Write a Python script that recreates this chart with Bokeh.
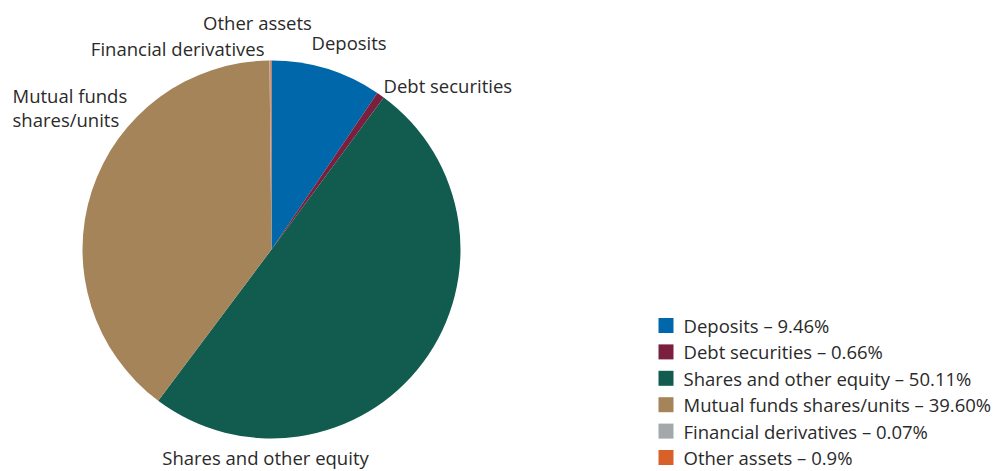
import numpy as np
from bokeh.plotting import figure
from bokeh.models import ColumnDataSource, Range1d
from bokeh.core.properties import value
from bokeh.embed import file_html
from bokeh.resources import INLINE

# ---- data ----
categories = ["Deposits", "Debt securities", "Shares and other equity",
              "Mutual funds shares/units", "Financial derivatives", "Other assets"]
slice_values = [9.46, 0.66, 50.11, 39.60, 0.07, 0.10]
legend_pct = ["9.46%", "0.66%", "50.11%", "39.60%", "0.07%", "0.9%"]
slice_labels = ["Deposits", "Debt securities", "Shares and other equity",
                "Mutual funds", "Financial derivatives", "Other assets"]
extra_label = "shares/units"
colors = ["#0067aa", "#7a1f3d", "#115b4f", "#a5845a", "#a3a9aa", "#d8612a"]

# ---- layout (pixel positions in the 998x471 picture) ----
W, H = 998, 471
def X(px): return px
def Y(py): return H - py

cx, cy, R = 271, 249, 189
label_pos = [(311, 42, "left"), (383, 85, "left"), (265, 457, "center"),
             (12, 95, "left"), (264, 48, "right"), (257, 22, "center")]
extra_pos = (12, 119)
leg_x_sq, leg_x_txt, leg_y0, leg_dy = 665.5, 683, 325.0, 26.4
FONT = "Open Sans"
FS = "18.5px"
TXT = "#2a2a2a"

p = figure(width=W, height=H, output_backend="svg", toolbar_location=None,
           x_range=Range1d(0, W), y_range=Range1d(0, H),
           min_border=0, outline_line_color=None)
p.axis.visible = False
p.grid.visible = False
p.background_fill_color = "white"
p.border_fill_color = "white"

vals = np.array(slice_values, dtype=float)
frac = vals / vals.sum()
cum = np.concatenate([[0], np.cumsum(frac)])
start = np.pi / 2 - cum[:-1] * 2 * np.pi
end = np.pi / 2 - cum[1:] * 2 * np.pi

src = ColumnDataSource(dict(start=start, end=end, color=colors))
p.wedge(x=X(cx), y=Y(cy), radius=R, start_angle="start", end_angle="end",
        direction="clock", fill_color="color", line_color=None, source=src)

# slice labels
for lab, (lx, ly, al) in zip(slice_labels, label_pos):
    p.text(x=[X(lx)], y=[Y(ly)], text=[lab], text_align=al, text_baseline="middle",
           text_font=value(FONT), text_font_size=FS, text_color=TXT)
p.text(x=[X(extra_pos[0])], y=[Y(extra_pos[1])], text=[extra_label], text_align="left",
       text_baseline="middle", text_font=value(FONT), text_font_size=FS, text_color=TXT)

# legend
n = len(categories)
ly = [Y(leg_y0 + i * leg_dy) for i in range(n)]
p.rect(x=[X(leg_x_sq)] * n, y=ly, width=15, height=15, fill_color=colors, line_color=None)
p.text(x=[X(leg_x_txt)] * n, y=ly,
       text=[f"{c} \u2013 {v}" for c, v in zip(categories, legend_pct)],
       text_align="left", text_baseline="middle", text_font=value(FONT),
       text_font_size=FS, text_color=TXT)

open("out.html", "w").write(file_html(p, INLINE))
